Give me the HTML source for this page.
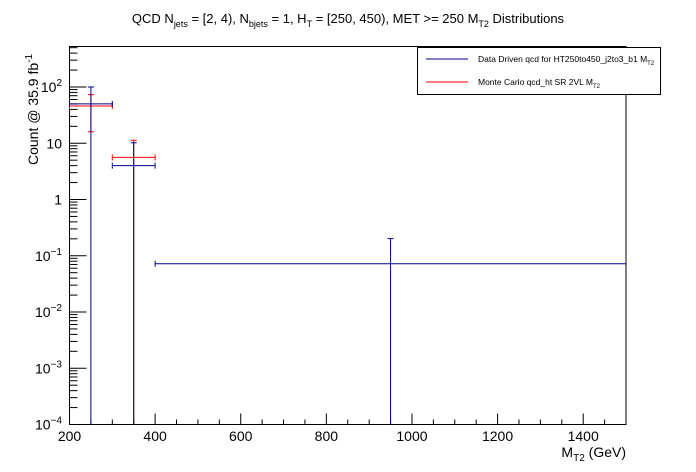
<!DOCTYPE html>
<html><head><meta charset="utf-8"><style>
body{margin:0;background:#fff;}
svg{display:block;font-family:"Liberation Sans",sans-serif;}
</style></head><body>
<svg id="c" width="696" height="472" xmlns="http://www.w3.org/2000/svg">
<rect width="696" height="472" fill="#fff"/>
<text x="348" y="23" font-size="13" text-anchor="middle">QCD N<tspan font-size="9" dy="4">jets</tspan><tspan dy="-4"> = [2, 4), N</tspan><tspan font-size="9" dy="4">bjets</tspan><tspan dy="-4"> = 1, H</tspan><tspan font-size="9" dy="4">T</tspan><tspan dy="-4"> = [250, 450), MET &gt;= 250 M</tspan><tspan font-size="9" dy="4">T2</tspan><tspan dy="-4"> Distributions</tspan></text>
<g id="axes"></g>
<g id="marks"></g>
<text x="626" y="457" font-size="14" text-anchor="end">M<tspan font-size="10" dy="4">T2</tspan><tspan dy="-4"> (GeV)</tspan></text>
<text transform="translate(38,165) rotate(-90)" font-size="14">Count @ 35.9 fb<tspan font-size="10" dy="-6">-1</tspan></text>
<g>
<rect x="417.5" y="47.5" width="243" height="47" fill="#fff" stroke="#000"/>
<line x1="426" y1="59" x2="468" y2="59" stroke="#00008b"/>
<text x="478" y="62" font-size="8.5">Data Driven qcd for HT250to450_j2to3_b1 M<tspan font-size="6" dy="3">T2</tspan></text>
<line x1="426" y1="82" x2="468" y2="82" stroke="#f00"/>
<text x="478" y="85" font-size="8.5">Monte Carlo qcd_ht SR 2VL M<tspan font-size="6" dy="3">T2</tspan></text>
</g>
</svg>
<script>
const binLow=[200,300,400];
const binHigh=[300,400,1500];
const ddValues=[50,4.0,0.072];
const ddErrors=[50,6.2,0.13];
const mcBinLow=[200,300];
const mcBinHigh=[300,400];
const mcValues=[46,5.6];
const mcErrHigh=[27,5.7];
const mcErrLow=[30,5.7];
const xTicks=[200,400,600,800,1000,1200,1400];
const yTickExp=[-4,-3,-2,-1,0,1,2];
const X0=69.5,X1=626,Y0=424.5,Y1=46.5;
const xMin=200,xMax=1500,yMinL=-4,yMaxL=2.72;
const NS="http://www.w3.org/2000/svg";
function sx(v){return X0+(v-xMin)/(xMax-xMin)*(X1-X0);}
function sy(v){if(v<=0)return Y0;const l=Math.log10(v);return Math.max(Y1,Math.min(Y0,Y0-(l-yMinL)/(yMaxL-yMinL)*(Y0-Y1)));}
function el(tag,attrs,parent){const e=document.createElementNS(NS,tag);for(const k in attrs)e.setAttribute(k,attrs[k]);parent.appendChild(e);return e;}
const ax=document.getElementById('axes'),mk=document.getElementById('marks');
const frame=el('rect',{x:X0,y:Y1,width:X1-X0,height:Y0-Y1,fill:'none',stroke:'#000'},ax);


for(let v=200;v<=1500;v+=50){const maj=v%200===0;const t=el('line',{x1:sx(v),x2:sx(v),y1:Y0,y2:Y0-(maj?11:5),stroke:'#000'},ax);

}
xTicks.forEach(v=>{const t=el('text',{x:sx(v),y:441,'font-size':14,'text-anchor':'middle'},ax);t.textContent=v;

});
for(let e=-4;e<=2;e++){for(let m=1;m<=9;m++){const v=m*Math.pow(10,e);const l=Math.log10(v);if(l>yMaxL)continue;const y=sy(v);
const t=el('line',{x1:X0,x2:X0+(m===1?17:8),y1:y,y2:y,stroke:'#000'},ax);

}}
yTickExp.forEach(e=>{const y=sy(Math.pow(10,e));const t=el('text',{x:62,y:y+5,'font-size':14,'text-anchor':'end'},ax);
if(e===0)t.textContent='1';else if(e===1)t.textContent='10';else{t.textContent='10';const s=el('tspan',{'font-size':10,dy:-6},t);s.textContent=String(e).replace('-','\u2212');}

});
function errbar(lo,hi,v,eu,ed,color,name){const g=el('g',{stroke:color,fill:'none'},mk);


const y=sy(v),xa=sx(lo),xb=sx(hi),xc=sx((lo+hi)/2);
el('line',{x1:xa,x2:xb,y1:y,y2:y},g);
el('line',{x1:xa,x2:xa,y1:y-3,y2:y+3},g);
if(xb<X1)el('line',{x1:xb,x2:xb,y1:y-3,y2:y+3},g);
const yt=sy(v+eu),yb=sy(v-ed);
el('line',{x1:xc,x2:xc,y1:yt,y2:yb},g);
el('line',{x1:xc-3,x2:xc+3,y1:yt,y2:yt},g);
if(v-ed>0)el('line',{x1:xc-3,x2:xc+3,y1:yb,y2:yb},g);}
mcValues.forEach((v,i)=>errbar(mcBinLow[i],mcBinHigh[i],v,mcErrHigh[i],mcErrLow[i],'#f00','mc-bin-'+i));
ddValues.forEach((v,i)=>errbar(binLow[i],binHigh[i],v,ddErrors[i],ddErrors[i]*1.5,'#00008b','dd-bin-'+i));
</script>
</body></html>
